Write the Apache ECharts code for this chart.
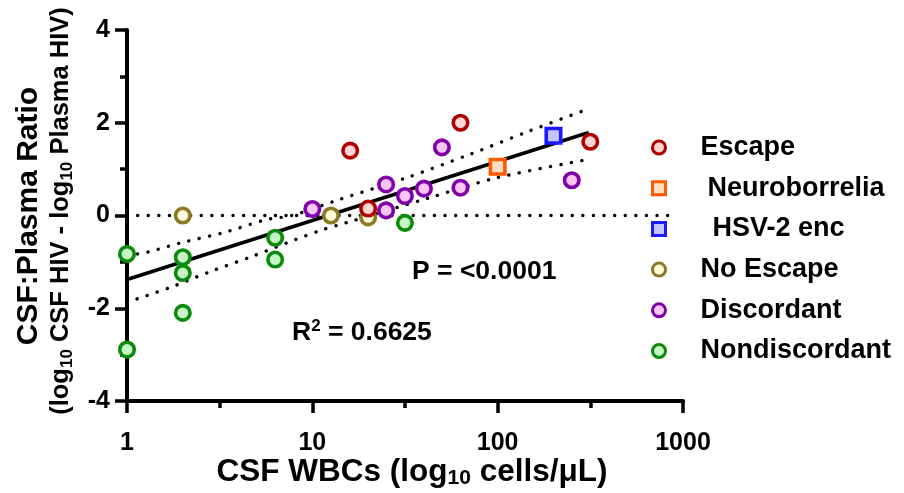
<!DOCTYPE html>
<html>
<head>
<meta charset="utf-8">
<script src="https://cdn.jsdelivr.net/npm/echarts@6/dist/echarts.min.js"></script>
<style>html,body{margin:0;padding:0;background:#fff;}#c{width:904px;height:493px;}</style>
</head>
<body>
<div id="c"></div>
<script>
// ---- data ----
const seriesNames = ['Escape', 'Neuroborrelia', 'HSV-2 enc', 'No Escape', 'Discordant', 'Nondiscordant'];
const escapeData = [[16, 1.40], [63, 2.00], [20, 0.15], [316, 1.59]];
const neuroData = [[100, 1.05]];
const hsvData = [[200, 1.72]];
const noEscapeData = [[2, 0.00], [12.6, 0.00], [20, -0.04]];
const discordantData = [[10, 0.14], [50, 1.47], [25, 0.67], [40, 0.58], [63, 0.60], [31.6, 0.42], [25, 0.11], [251, 0.76]];
const nondiscordantData = [[1, -0.83], [2, -0.90], [2, -1.24], [2, -2.10], [1, -2.89], [6.3, -0.48], [6.3, -0.95], [31.6, -0.16]];
const fitLine = [[1, -1.38], [310, 1.79]];
const upperBand = [[1, -0.86], [1.29, -0.79], [1.95, -0.59], [3.39, -0.36], [5.62, -0.09], [7.76, 0.00], [14, 0.345], [32, 0.81], [71, 1.32], [148, 1.82], [300, 2.28]];
const lowerBand = [[1, -1.87], [1.69, -1.56], [2.77, -1.22], [4.75, -0.88], [8.1, -0.52], [11.7, -0.29], [15.1, -0.16], [42.7, 0.38], [98, 0.81], [300, 1.20]];
const zeroLine = [[1, 0], [900, 0]];
const xTicks = [1, 10, 100, 1000];
const yTicks = [-4, -2, 0, 2, 4];
const pText = 'P = <0.0001';
const r2Value = '0.6625';

const styles = {
  'Escape': {symbol: 'circle', stroke: '#b00000', fill: '#ffd6d6', z: 5, tag: 'a'},
  'Neuroborrelia': {symbol: 'rect', stroke: '#ff5a00', fill: '#ffe0c6', z: 5, tag: 'b'},
  'HSV-2 enc': {symbol: 'rect', stroke: '#1a1aff', fill: '#c4c4ff', z: 5, tag: 'c'},
  'No Escape': {symbol: 'circle', stroke: '#8a7a26', fill: '#fffbd8', z: 3, tag: 'a'},
  'Discordant': {symbol: 'circle', stroke: '#8200aa', fill: '#f8c6f2', z: 4, tag: 'a'},
  'Nondiscordant': {symbol: 'circle', stroke: '#0b8a0b', fill: '#c6f6c6', z: 3, tag: 'a'}
};
const dataMap = {
  'Escape': escapeData, 'Neuroborrelia': neuroData, 'HSV-2 enc': hsvData,
  'No Escape': noEscapeData, 'Discordant': discordantData, 'Nondiscordant': nondiscordantData
};

const FONT = '"Liberation Sans", Arial, Helvetica, sans-serif';
const chart = echarts.init(document.getElementById('c'), null, {renderer: 'canvas'});

const scatterSeries = seriesNames.map(n => ({
  name: n, type: 'scatter', data: dataMap[n], symbol: styles[n].symbol,
  symbolSize: 14.5, z: styles[n].z, xAxisIndex: 0,
  itemStyle: {color: styles[n].fill, borderColor: styles[n].stroke, borderWidth: 3.6, opacity: 1},
  emphasis: {disabled: true}
}));

const dotted = {type: [0.1, 10.5], width: 3.4, cap: 'round', color: '#000'};
const lineSeries = [
  {type: 'line', data: zeroLine, showSymbol: false, z: 1, lineStyle: dotted, silent: true, xAxisIndex: 0},
  {type: 'line', data: upperBand, showSymbol: false, smooth: 0.3, z: 1, lineStyle: dotted, silent: true, xAxisIndex: 0},
  {type: 'line', data: lowerBand, showSymbol: false, smooth: 0.3, z: 1, lineStyle: dotted, silent: true, xAxisIndex: 0},
  {type: 'line', data: fitLine, showSymbol: false, z: 2, lineStyle: {color: '#000', width: 3.5}, silent: true, xAxisIndex: 0}
];

const legendFont = {fontSize: 27, fontWeight: 'bold', fontFamily: FONT, color: '#000', lineHeight: 27};

const option = {
  animation: false,
  backgroundColor: '#fff',
  grid: {left: 127, right: 221, top: 30, bottom: 92, containLabel: false},
  xAxis: [{
    type: 'log', logBase: 10, min: xTicks[0], max: xTicks[xTicks.length - 1],
    axisLine: {onZero: false, lineStyle: {color: '#000', width: 4}},
    axisTick: {length: 12, lineStyle: {color: '#000', width: 3.5}},
    minorTick: {show: false},
    splitLine: {show: false},
    axisLabel: {color: '#000', fontSize: 25, fontWeight: 'bold', fontFamily: FONT, margin: 30,
      formatter: v => String(Math.round(v))}
  }, {
    // half-decade tick marks of the log axis
    type: 'value', min: 0, max: 3, interval: 0.5, position: 'bottom',
    axisLine: {show: false, onZero: false},
    axisTick: {length: 7, lineStyle: {color: '#000', width: 3.5}},
    axisLabel: {show: false}, splitLine: {show: false}
  }],
  yAxis: {
    type: 'value', min: yTicks[0], max: yTicks[yTicks.length - 1], interval: 2,
    axisLine: {onZero: false, lineStyle: {color: '#000', width: 4}},
    axisTick: {length: 12, lineStyle: {color: '#000', width: 3.5}},
    minorTick: {show: true, splitNumber: 2, length: 7, lineStyle: {color: '#000', width: 3.5}},
    splitLine: {show: false},
    axisLabel: {color: '#000', fontSize: 25, fontWeight: 'bold', fontFamily: FONT, margin: 17}
  },
  legend: {
    orient: 'vertical', left: 646, top: 129, itemWidth: 13, itemHeight: 13, itemGap: 13.7,
    data: seriesNames,
    itemStyle: {borderWidth: 3},
    formatter: n => '{' + styles[n].tag + '|' + n + '}',
    textStyle: Object.assign({}, legendFont, {
      rich: {
        a: Object.assign({}, legendFont, {padding: [0, 0, 0, 30]}),
        b: Object.assign({}, legendFont, {padding: [0, 0, 0, 37]}),
        c: Object.assign({}, legendFont, {padding: [0, 0, 0, 42]})
      }
    }),
    selectedMode: false
  },
  series: lineSeries.concat(scatterSeries),
  graphic: [
    {type: 'text', x: 29, y: 216, rotation: Math.PI / 2, z: 10,
     style: {text: 'CSF:Plasma Ratio', font: 'bold 30px ' + FONT, fill: '#000', align: 'center', verticalAlign: 'middle'}},
    {type: 'text', x: 61, y: 211, rotation: Math.PI / 2, z: 10,
     style: {text: '{n|(log}{s|10}{n| CSF HIV - log}{s|10}{n| Plasma HIV)}', align: 'center', verticalAlign: 'middle', fill: '#000',
       rich: {n: {font: 'bold 25.5px ' + FONT, lineHeight: 30, verticalAlign: 'middle'},
              s: {font: 'bold 17px ' + FONT, lineHeight: 17, verticalAlign: 'bottom'}}}},
    {type: 'text', x: 412, y: 472, z: 10,
     style: {text: '{n|CSF WBCs (log}{s|10}{n| cells/μL)}', align: 'center', verticalAlign: 'middle', fill: '#000',
       rich: {n: {font: 'bold 31.5px ' + FONT, lineHeight: 34, verticalAlign: 'middle'},
              s: {font: 'bold 21px ' + FONT, lineHeight: 21, verticalAlign: 'bottom'}}}},
    {type: 'text', x: 412, y: 272, z: 10,
     style: {text: pText, font: 'bold 26.5px ' + FONT, fill: '#000', align: 'left', verticalAlign: 'middle'}},
    {type: 'text', x: 292, y: 333, z: 10,
     style: {text: '{n|R}{p|2}{n| = ' + r2Value + '}', align: 'left', verticalAlign: 'middle', fill: '#000',
       rich: {n: {font: 'bold 26.5px ' + FONT, lineHeight: 30, verticalAlign: 'middle'},
              p: {font: 'bold 17px ' + FONT, lineHeight: 17, verticalAlign: 'top'}}}}
  ]
};
chart.setOption(option);
</script>
</body>
</html>
